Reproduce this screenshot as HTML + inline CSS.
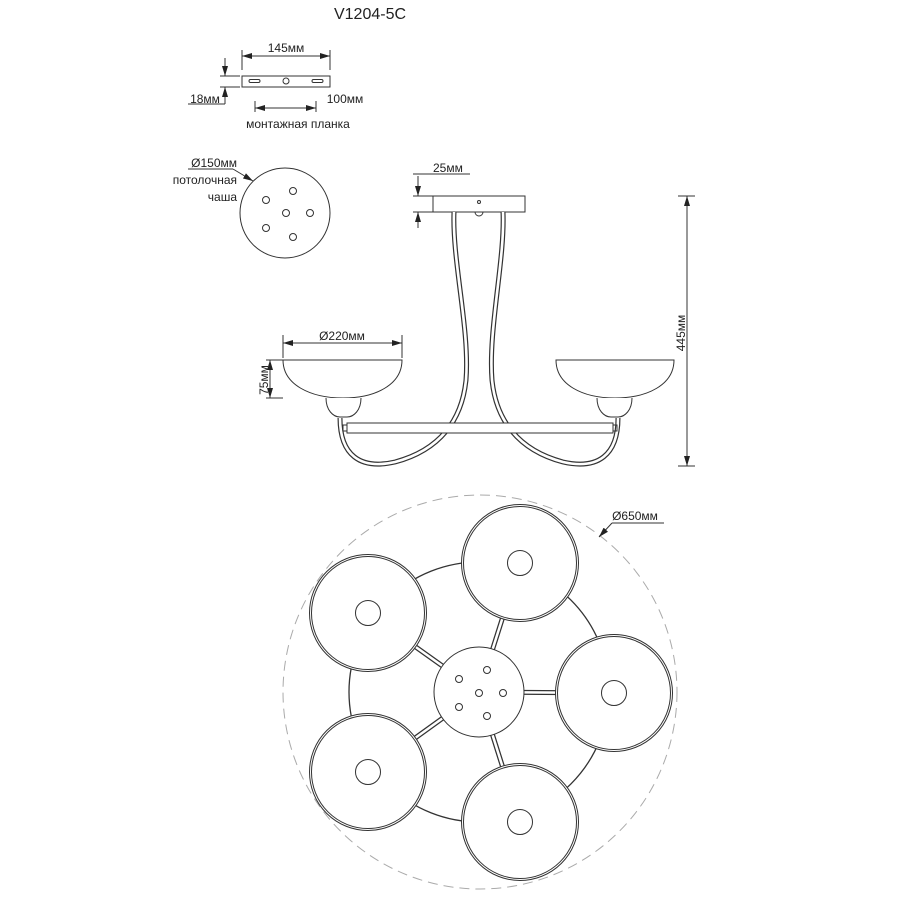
<!DOCTYPE html>
<html><head><meta charset="utf-8"><style>
html,body{margin:0;padding:0;background:#fff}
svg{display:block}
text{font-family:"Liberation Sans",sans-serif;fill:#222}
</style></head><body>
<svg width="900" height="900" viewBox="0 0 900 900" xmlns="http://www.w3.org/2000/svg">
<defs>
<marker id="ar" viewBox="0 0 10 6" refX="10" refY="3" markerWidth="10" markerHeight="6" orient="auto-start-reverse" markerUnits="userSpaceOnUse"><path d="M0,0 L10,3 L0,6 z" fill="#222"/></marker>
</defs>
<g stroke="#333" fill="none" stroke-width="1">
<text x="370" y="19" font-size="16" text-anchor="middle" stroke="none">V1204-5C</text>
<!-- mounting plate -->
<line x1="242" y1="50" x2="242" y2="70"/><line x1="330" y1="50" x2="330" y2="70"/>
<line x1="242" y1="56" x2="330" y2="56" marker-start="url(#ar)" marker-end="url(#ar)"/>
<text x="286" y="52" font-size="12" text-anchor="middle" stroke="none">145мм</text>
<rect x="242" y="76" width="88" height="11"/>
<rect x="249" y="79.5" width="11" height="3" rx="1.5"/><rect x="312" y="79.5" width="11" height="3" rx="1.5"/>
<circle cx="286" cy="81" r="3"/>
<line x1="220" y1="76" x2="240" y2="76"/><line x1="220" y1="87" x2="240" y2="87"/>
<line x1="225" y1="58" x2="225" y2="76" marker-end="url(#ar)"/>
<line x1="225" y1="104" x2="225" y2="87" marker-end="url(#ar)"/>
<line x1="188" y1="104" x2="225" y2="104"/>
<text x="205" y="103" font-size="12" text-anchor="middle" stroke="none">18мм</text>
<text x="345" y="103" font-size="12" text-anchor="middle" stroke="none">100мм</text>
<line x1="255" y1="101" x2="255" y2="112"/><line x1="316" y1="101" x2="316" y2="112"/>
<line x1="255" y1="108" x2="316" y2="108" marker-start="url(#ar)" marker-end="url(#ar)"/>
<text x="298" y="128" font-size="12" text-anchor="middle" stroke="none">монтажная планка</text>
<!-- ceiling disc -->
<text x="237" y="167" font-size="12" text-anchor="end" stroke="none">Ø150мм</text>
<text x="237" y="184" font-size="12" text-anchor="end" stroke="none">потолочная</text>
<text x="237" y="201" font-size="12" text-anchor="end" stroke="none">чаша</text>
<line x1="188" y1="169" x2="233" y2="169"/>
<line x1="233" y1="169" x2="253" y2="181" marker-end="url(#ar)"/>
<circle cx="285" cy="213" r="45"/>
<circle cx="293" cy="191" r="3.5"/><circle cx="266" cy="200" r="3.5"/><circle cx="286" cy="213" r="3.5"/>
<circle cx="310" cy="213" r="3.5"/><circle cx="266" cy="228" r="3.5"/><circle cx="293" cy="237" r="3.5"/>
<!-- side view -->
<text x="433" y="172" font-size="12" stroke="none">25мм</text>
<line x1="413" y1="174" x2="470" y2="174"/>
<line x1="413" y1="196" x2="433" y2="196"/><line x1="413" y1="212" x2="433" y2="212"/>
<line x1="418" y1="176" x2="418" y2="196" marker-end="url(#ar)"/>
<line x1="418" y1="228" x2="418" y2="212" marker-end="url(#ar)"/>
<rect x="433" y="196" width="92" height="16"/>
<circle cx="479" cy="202" r="1.5"/>
<path d="M475,212 A4,4 0 0 0 483,212"/>
<!-- stems & arms (double lines) -->
<g stroke="#333" stroke-width="5" fill="none">
<path id="sl" d="M454,212 C452,260 470,330 466,380 C462,420 440,450 395,462 C360,470 340,455 340,418"/>
<path id="sr" d="M503,212 C505,260 488,330 492,380 C496,420 518,450 563,462 C598,470 618,455 618,418"/>
</g>
<g stroke="#fff" stroke-width="2.6" fill="none">
<path d="M454,212 C452,260 470,330 466,380 C462,420 440,450 395,462 C360,470 340,455 340,418"/>
<path d="M503,212 C505,260 488,330 492,380 C496,420 518,450 563,462 C598,470 618,455 618,418"/>
</g>
<rect x="347" y="423" width="266" height="10" fill="#fff"/>
<rect x="343" y="425" width="4" height="6"/><rect x="613" y="425" width="4" height="6"/>
<!-- bowls -->
<path d="M283,360 L402,360 C402,385 375,398 343,398 C311,398 283,385 283,360 Z" fill="#fff"/>
<path d="M326,398 C326,410 333,417 340,417 L347,417 C354,417 361,410 361,398" fill="#fff"/>
<path d="M556,360 L674,360 C674,385 647,398 615,398 C583,398 556,385 556,360 Z" fill="#fff"/>
<path d="M597,398 C597,410 604,417 611,417 L618,417 C625,417 632,410 632,398" fill="#fff"/>
<!-- dims side -->
<line x1="283" y1="335" x2="283" y2="358"/><line x1="402" y1="335" x2="402" y2="358"/>
<line x1="283" y1="343" x2="402" y2="343" marker-start="url(#ar)" marker-end="url(#ar)"/>
<text x="342" y="340" font-size="12" text-anchor="middle" stroke="none">Ø220мм</text>
<line x1="266" y1="360" x2="283" y2="360"/><line x1="266" y1="398" x2="283" y2="398"/>
<line x1="270" y1="360" x2="270" y2="398" marker-start="url(#ar)" marker-end="url(#ar)"/>
<text transform="translate(268,380) rotate(-90)" font-size="12" text-anchor="middle" stroke="none">75мм</text>
<line x1="678" y1="196" x2="695" y2="196"/><line x1="678" y1="466" x2="695" y2="466"/>
<line x1="687" y1="196" x2="687" y2="466" marker-start="url(#ar)" marker-end="url(#ar)"/>
<text transform="translate(685,333) rotate(-90)" font-size="12" text-anchor="middle" stroke="none">445мм</text>
<!-- top view -->
<circle cx="480" cy="692" r="197" stroke="#aaa" stroke-dasharray="10,6"/>
<text x="635" y="520" font-size="12" text-anchor="middle" stroke="none">Ø650мм</text>
<line x1="612" y1="523" x2="664" y2="523"/>
<line x1="612" y1="523" x2="599" y2="537" marker-end="url(#ar)"/>
<circle cx="479" cy="692" r="130" stroke-width="1.3"/>
<g stroke-width="5"><line x1="479" y1="692" x2="520" y2="563"/><line x1="479" y1="692" x2="614" y2="693"/><line x1="479" y1="692" x2="520" y2="822"/><line x1="479" y1="692" x2="368" y2="772"/><line x1="479" y1="692" x2="368" y2="613"/></g>
<g stroke="#fff" stroke-width="2.5"><line x1="479" y1="692" x2="520" y2="563"/><line x1="479" y1="692" x2="614" y2="693"/><line x1="479" y1="692" x2="520" y2="822"/><line x1="479" y1="692" x2="368" y2="772"/><line x1="479" y1="692" x2="368" y2="613"/></g>
<circle cx="479" cy="692" r="45" fill="#fff"/>
<circle cx="487" cy="670" r="3.5"/><circle cx="459" cy="679" r="3.5"/><circle cx="479" cy="693" r="3.5"/>
<circle cx="503" cy="693" r="3.5"/><circle cx="459" cy="707" r="3.5"/><circle cx="487" cy="716" r="3.5"/>
<g fill="#fff" stroke-width="1">
<circle cx="520" cy="563" r="58.5"/><circle cx="614" cy="693" r="58.5"/><circle cx="520" cy="822" r="58.5"/><circle cx="368" cy="772" r="58.5"/><circle cx="368" cy="613" r="58.5"/>
</g>
<g>
<circle cx="520" cy="563" r="56.5"/><circle cx="614" cy="693" r="56.5"/><circle cx="520" cy="822" r="56.5"/><circle cx="368" cy="772" r="56.5"/><circle cx="368" cy="613" r="56.5"/>
<circle cx="520" cy="563" r="12.5"/><circle cx="614" cy="693" r="12.5"/><circle cx="520" cy="822" r="12.5"/><circle cx="368" cy="772" r="12.5"/><circle cx="368" cy="613" r="12.5"/>
</g>
</g>
</svg>
</body></html>
